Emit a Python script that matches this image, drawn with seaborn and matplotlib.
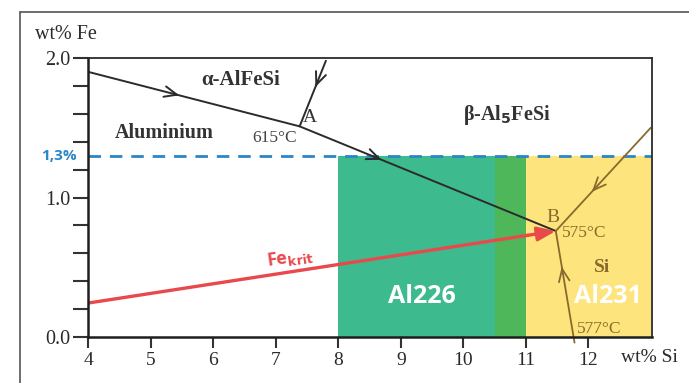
import numpy as np
import pandas as pd
import matplotlib
matplotlib.use("Agg")
import matplotlib.pyplot as plt
from matplotlib.lines import Line2D
import seaborn as sns

# Liquidus boundaries of the Al-Si-Fe corner (wt% Si, wt% Fe)
main_si = [4.0, 7.38, 11.48]
main_fe = [1.90, 1.51, 0.76]
alpha_si = [7.80, 7.38]
alpha_fe = [1.98, 1.51]
si_branch_si = [13.0, 11.48]
si_branch_fe = [1.50, 0.76]
eut_si = [11.78, 11.48]
eut_fe = [-0.04, 0.76]

# Critical iron content line
fekrit_si = [4.0, 11.48]
fekrit_fe = [0.244, 0.76]

# Alloy windows
fe_limit = 1.3
al226_range = [8.0, 11.0]
al231_range = [10.5, 13.0]

x_ticks = [4, 5, 6, 7, 8, 9, 10, 11, 12]
y_ticks = [0.0, 0.2, 0.4, 0.6, 0.8, 1.0, 1.2, 1.4, 1.6, 1.8, 2.0]
y_labels = ["0.0", "", "", "", "", "1.0", "", "", "", "", "2.0"]

sns.set_theme(style="ticks")
plt.rcParams["font.family"] = ["Liberation Serif", "DejaVu Serif"]

DARK = "#2b2b2b"
BROWN = "#8a6a2c"
RED = "#e84a4c"
BLUE = "#2a86c6"
TEAL = "#3dba8e"
GREEN = "#4db75a"
YELLOW = "#fde47c"
SANS = ["Open Sans", "DejaVu Sans"]

fig = plt.figure(figsize=(6.89, 3.83), dpi=100)
ax = fig.add_axes([0.1284, 0.120, 0.8179, 0.7286])
ax.set_xlim(4, 13.02)
ax.set_ylim(0, 2.0)

# alloy composition windows
ax.fill_between([al226_range[0], al231_range[0]], 0, fe_limit, color=TEAL, lw=0, zorder=1)
ax.fill_between([al231_range[0], al226_range[1]], 0, fe_limit, color=GREEN, lw=0, zorder=1)
ax.fill_between([al226_range[1], al231_range[1]], 0, fe_limit, color=YELLOW, lw=0, zorder=1)

# Fe limit
ax.axhline(fe_limit, color=BLUE, lw=2.0, ls=(0, (4.5, 3.2)), zorder=2)

def seg(xs, ys, color, lw, clip=True):
    df = pd.DataFrame({"si": xs, "fe": ys})
    sns.lineplot(data=df, x="si", y="fe", ax=ax, color=color, lw=lw,
                 sort=False, estimator=None, zorder=3)
    ax.lines[-1].set_clip_on(clip)

def flow_arrow(xs, ys, frac, color, lw):
    p0 = np.array([xs[0], ys[0]])
    p1 = np.array([xs[-1], ys[-1]])
    tip = p0 + frac * (p1 - p0)
    back = p0 + (frac - 0.02) * (p1 - p0)
    ax.annotate("", xy=tip, xytext=back,
                arrowprops=dict(arrowstyle="->,head_length=0.75,head_width=0.32",
                                color=color, lw=lw, shrinkA=0, shrinkB=0),
                zorder=4)

seg(main_si, main_fe, DARK, 1.4)
seg(alpha_si, alpha_fe, DARK, 1.4)
seg(si_branch_si, si_branch_fe, BROWN, 1.3)
seg(eut_si, eut_fe, BROWN, 1.3, clip=False)

flow_arrow(main_si[:2], main_fe[:2], 0.43, DARK, 1.4)
flow_arrow(main_si[1:], main_fe[1:], 0.32, DARK, 1.4)
flow_arrow(alpha_si, alpha_fe, 0.40, DARK, 1.4)
flow_arrow(si_branch_si, si_branch_fe, 0.62, BROWN, 1.3)
flow_arrow(eut_si, eut_fe, 0.68, BROWN, 1.3)

# Fe_krit arrow
shaft_end = [fekrit_si[0] + 0.94 * (fekrit_si[1] - fekrit_si[0]),
             fekrit_fe[0] + 0.94 * (fekrit_fe[1] - fekrit_fe[0])]
seg([fekrit_si[0], shaft_end[0]], [fekrit_fe[0], shaft_end[1]], RED, 2.4)
ax.annotate("", xy=(fekrit_si[1], fekrit_fe[1]), xytext=(shaft_end[0], shaft_end[1]),
            arrowprops=dict(arrowstyle="-|>,head_length=0.9,head_width=0.35",
                            color=RED, lw=2.4, shrinkA=0, shrinkB=0), zorder=5)

# spines and ticks
for side in ["top", "right"]:
    ax.spines[side].set_visible(True)
    ax.spines[side].set_color(DARK)
    ax.spines[side].set_linewidth(1.3)
for side in ["left", "bottom"]:
    ax.spines[side].set_color("#1e1e1e")
    ax.spines[side].set_linewidth(1.8)
for s in ax.spines.values():
    s.set_zorder(6)

ax.set_xticks(x_ticks)
ax.set_xticklabels([str(v) for v in x_ticks])
ax.set_yticks(y_ticks)
ax.set_yticklabels(y_labels)
ax.tick_params(axis="y", direction="out", length=11, width=1.5, color="#333333",
               pad=2, labelsize=14.5, labelcolor="#2a2a2a")
ax.tick_params(axis="x", direction="out", length=8, width=1.5, color="#333333",
               pad=3, labelsize=14, labelcolor="#2a2a2a")
ax.set_xlabel("")
ax.set_ylabel("")

# axis captions
ax.text(3.64, 2.165, "wt% Fe", fontsize=14.5, color="#2a2a2a", ha="center", va="center",
        clip_on=False)
ax.text(12.98, -0.15, "wt% Si", fontsize=14, color="#2a2a2a", ha="center", va="center",
        clip_on=False)
ax.text(3.82, fe_limit, "1,3%", fontsize=11, color=BLUE, fontweight="bold",
        family=SANS, ha="right", va="center", clip_on=False)

# phase field labels
ax.text(6.43, 1.84, "α-AlFeSi", fontsize=15, fontweight="bold", color="#333333",
        ha="center", va="center")
ax.text(5.22, 1.46, "Aluminium", fontsize=14.5, fontweight="bold", color="#333333",
        ha="center", va="center")
ax.text(6.98, 1.43, "615°C", fontsize=12.5, color="#444444", ha="center", va="center")
ax.text(7.55, 1.57, "A", fontsize=14, color="#333333", ha="center", va="center")
ax.text(10.70, 1.59, r"β-Al$_\mathbf{5}$FeSi", fontsize=14.5, fontweight="bold",
        color="#333333", ha="center", va="center")
ax.text(11.43, 0.86, "B", fontsize=14, color=BROWN, ha="center", va="center")
ax.text(11.94, 0.745, "575°C", fontsize=12.5, color=BROWN, ha="center", va="center")
ax.text(12.22, 0.50, "Si", fontsize=14, fontweight="bold", color=BROWN,
        ha="center", va="center")
ax.text(12.18, 0.06, "577°C", fontsize=12.5, color=BROWN, ha="center", va="center")

# alloy labels
ax.text(9.34, 0.29, "Al226", fontsize=18, fontweight="bold", color="white",
        family=SANS, ha="center", va="center", zorder=5)
ax.text(12.31, 0.29, "Al231", fontsize=18, fontweight="bold", color="white",
        family=SANS, ha="center", va="center", zorder=5)
ax.text(7.22, 0.57, r"Fe$_{\mathbf{krit}}$", fontsize=13, fontweight="bold", color=RED,
        family=SANS, ha="center", va="center", rotation=8, zorder=5)

# outer frame
fig.add_artist(Line2D([0.029, 0.029], [0.0, 0.969], color="#555555", lw=1.2))
fig.add_artist(Line2D([0.029, 1.0], [0.969, 0.969], color="#555555", lw=1.2))

fig.savefig("out.png", dpi=100)
